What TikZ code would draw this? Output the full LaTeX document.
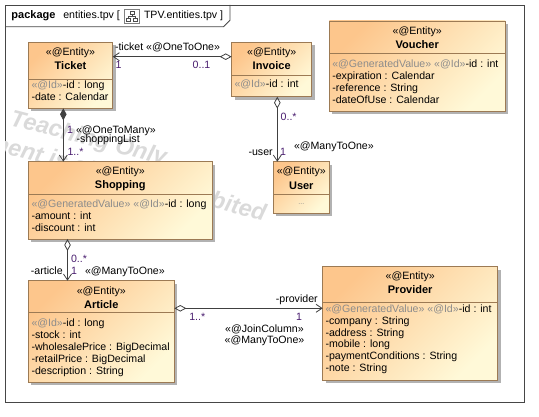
\documentclass[tikz,border=0pt]{standalone}
\usepackage{fontspec}
\setmainfont{Liberation Sans}
\usetikzlibrary{arrows.meta,calc,shadows}

\definecolor{boxtop}{RGB}{253,198,140}
\definecolor{boxbottom}{RGB}{255,249,216}
\definecolor{boxline}{RGB}{156,122,84}
\definecolor{shadowgray}{RGB}{178,178,178}
\definecolor{linegray}{RGB}{64,64,64}
\definecolor{framegray}{RGB}{70,70,70}
\definecolor{stereogray}{RGB}{140,140,140}
\definecolor{multcolor}{RGB}{72,28,110}
\definecolor{wmgray}{RGB}{218,218,218}

\tikzset{
  classbox/.style={draw=boxline, line width=0.8pt, top color=boxtop,
    bottom color=boxbottom, shading angle=45, inner sep=0pt, outer sep=0pt,
    anchor=north west,
    drop shadow={shadow xshift=3pt, shadow yshift=-3pt, fill=shadowgray, opacity=1}},
  divider/.style={draw=boxline, line width=0.8pt},
  frameline/.style={draw=framegray, line width=0.8pt},
  txt/.style={font=\fontsize{10.6}{12}\selectfont, inner sep=0pt, outer sep=0pt},
  stereo/.style={txt, anchor=base},
  cname/.style={font=\fontsize{11}{13}\selectfont\bfseries, inner sep=0pt, anchor=base},
  attr/.style={txt, anchor=base west},
  lbl/.style={txt, anchor=base west},
  lblr/.style={txt, anchor=base east},
  mult/.style={txt, anchor=base west, text=multcolor},
  wmtext/.style={font=\fontsize{23.4}{28}\selectfont\bfseries\itshape, text=wmgray,
    inner sep=0pt, rotate=-14.5},
  assoc/.style={draw=linegray, line width=0.8pt},
  agg/.tip={Diamond[open, length=12pt, width=6.5pt, line width=0.8pt]},
  comp/.tip={Diamond[length=12pt, width=6.5pt]},
  nav/.tip={Straight Barb[length=6pt, width=8pt, line width=0.8pt]},
}

% entity box: name, left, top, right, bottom, y of the attribute divider
\newcommand\entitybox[6]{%
  \node[classbox, minimum width={#4-#2}, minimum height={#5-#3}] (#1) at (#2,#3) {};
  \draw[divider] (#2,#6) -- (#4,#6);
}
\newcommand\st[1]{{\color{stereogray}#1}}

\begin{document}
\begin{tikzpicture}[x=1pt,y=-1pt]
\useasboundingbox (0,0) rectangle (539,417);

% package frame and its name tab
\draw[frameline] (5,5) rectangle (524.5,402.5);
\draw[frameline] (5,26.7) -- (223.5,26.7) -- (230,20.2) -- (230,5);
\node[lbl, font=\fontsize{11}{13}\selectfont\bfseries] (pkgkw) at (11.5,18.3) {package};
\node[lbl] (pkgname) at (63.3,18.3) {entities.tpv [};
\node[lbl] (pkgref) at (144,18.3) {TPV.entities.tpv ]};
% diagram icon in the tab
\draw[draw=gray, line width=0.6pt] (124.5,9.5) rectangle (139.5,23.5);
\draw[draw=black!70, line width=0.6pt] (130,11.5) rectangle (134.5,14.5)
  (126.5,18.5) rectangle (130.5,21.5) (133.5,18.5) rectangle (137.5,21.5)
  (132.2,14.5) -- (132.2,16.5) (128.5,16.5) -- (135.5,16.5)
  (128.5,16.5) -- (128.5,18.5) (135.5,16.5) -- (135.5,18.5);

% watermark behind the entities
\begin{scope}
  \clip (5.5,5.5) rectangle (524,402);
  \node[wmtext, anchor=base west] (wm1) at (9,125) {Teaching Only};
  \node[wmtext, anchor=base east] (wm2) at (264,221) {Commercial Development is strictly prohibited};
\end{scope}

% entities
\entitybox{ticket}{28.3}{42.3}{112.7}{108.3}{79}
\entitybox{invoice}{231.7}{42.3}{311.7}{96.7}{75.7}
\entitybox{voucher}{329.3}{21}{505}{111}{53.3}
\entitybox{shopping}{28.3}{161.7}{212.3}{239}{194}
\entitybox{user}{273.3}{161.7}{329.3}{213.3}{194.3}
\entitybox{article}{28.3}{280.7}{174.3}{382.3}{312.7}
\entitybox{provider}{322.7}{266.7}{497.7}{380}{302.3}

% Ticket
\node[stereo] (ticketS) at (70.5,55.6) {«@Entity»};
\node[cname] (ticketN) at (70.5,70) {Ticket};
\node[attr] (ticketA1) at (31.5,89) {\st{«@Id»}-id : long};
\node[attr] (ticketA2) at (31.5,100.8) {-date : Calendar};

% Invoice
\node[stereo] (invoiceS) at (271.7,55.6) {«@Entity»};
\node[cname] (invoiceN) at (271.7,69.7) {Invoice};
\node[attr] (invoiceA1) at (234.5,87.3) {\st{«@Id»}-id : int};

% Voucher
\node[stereo] (voucherS) at (417.2,35) {«@Entity»};
\node[cname] (voucherN) at (417.2,48.3) {Voucher};
\node[attr] (voucherA1) at (332.3,67.3) {\st{«@GeneratedValue» «@Id»}-id : int};
\node[attr] (voucherA2) at (332.3,79.3) {-expiration : Calendar};
\node[attr] (voucherA3) at (332.3,91.3) {-reference : String};
\node[attr] (voucherA4) at (332.3,103.3) {-dateOfUse : Calendar};

% Shopping
\node[stereo] (shoppingS) at (120.3,175) {«@Entity»};
\node[cname] (shoppingN) at (120.3,189) {Shopping};
\node[attr] (shoppingA1) at (31.5,207.3) {\st{«@GeneratedValue» «@Id»}-id : long};
\node[attr] (shoppingA2) at (31.5,219.3) {-amount : int};
\node[attr] (shoppingA3) at (31.5,231.3) {-discount : int};

% User
\node[stereo] (userS) at (301.3,175) {«@Entity»};
\node[cname] (userN) at (301.3,189.3) {User};
\node[stereo, font=\fontsize{7}{8}\selectfont, text=stereogray] (userA) at (301.3,204.5) {...};

% Article
\node[stereo] (articleS) at (101.3,294.7) {«@Entity»};
\node[cname] (articleN) at (101.3,308.3) {Article};
\node[attr] (articleA1) at (31.5,326.6) {\st{«@Id»}-id : long};
\node[attr] (articleA2) at (31.5,338.45) {-stock : int};
\node[attr] (articleA3) at (31.5,350.3) {-wholesalePrice : BigDecimal};
\node[attr] (articleA4) at (31.5,362.15) {-retailPrice : BigDecimal};
\node[attr] (articleA5) at (31.5,374) {-description : String};

% Provider
\node[stereo] (providerS) at (410.2,279.7) {«@Entity»};
\node[cname] (providerN) at (410.2,294) {Provider};
\node[attr] (providerA1) at (325.5,312.3) {\st{«@GeneratedValue» «@Id»}-id : int};
\node[attr] (providerA2) at (325.5,324.2) {-company : String};
\node[attr] (providerA3) at (325.5,336.1) {-address : String};
\node[attr] (providerA4) at (325.5,348) {-mobile : long};
\node[attr] (providerA5) at (325.5,359.9) {-paymentConditions : String};
\node[attr] (providerA6) at (325.5,371.8) {-note : String};

% associations
\draw[assoc, agg-nav] ($(invoice.north west)+(0,14.4)$) -- ($(ticket.north east)+(0,14.4)$);
\draw[assoc, comp-nav] ($(ticket.south west)+(35,0)$) -- ($(shopping.north west)+(35,0)$);
\draw[assoc, agg-nav] ($(invoice.south west)+(45.6,0)$) -- ($(user.north west)+(4,0)$);
\draw[assoc, agg-nav] ($(shopping.south west)+(39.2,0)$) -- ($(article.north west)+(39.2,0)$);
\draw[assoc, agg-nav] ($(article.north east)+(0,27.6)$) -- ($(provider.north west)+(0,41.6)$);

% Invoice -> Ticket labels
\node[lbl] (l1role) at (115,51) {-ticket «@OneToOne»};
\node[mult] (l1m1) at (115.7,68.3) {1};
\node[mult] (l1m2) at (192.7,68.3) {0..1};

% Ticket -> Shopping labels
\node[mult] (l2m1) at (67,133.3) {1};
\node[lbl] (l2st) at (76,133.3) {«@OneToMany»};
\node[lbl] (l2role) at (76.7,143) {-shoppingList};
\node[mult] (l2m2) at (67.5,156) {1..*};

% Invoice -> User labels
\node[mult] (l3m1) at (280.7,120.7) {0..*};
\node[lblr] (l3role) at (272.7,155.7) {-user};
\node[mult] (l3m2) at (280,155.7) {1};
\node[lbl] (l3st) at (294,150) {«@ManyToOne»};

% Shopping -> Article labels
\node[mult] (l4m1) at (71,262.5) {0..*};
\node[lblr] (l4role) at (62.7,275) {-article};
\node[mult] (l4m2) at (71,275) {1};
\node[lbl] (l4st) at (85,275) {«@ManyToOne»};

% Article -> Provider labels
\node[lblr] (l5role) at (317.7,302.7) {-provider};
\node[mult] (l5m1) at (189.3,320) {1..*};
\node[mult] (l5m2) at (296,320) {1};
\node[stereo] (l5st1) at (264.5,332.5) {«@JoinColumn»};
\node[stereo] (l5st2) at (264.5,344) {«@ManyToOne»};
\end{tikzpicture}
\end{document}
